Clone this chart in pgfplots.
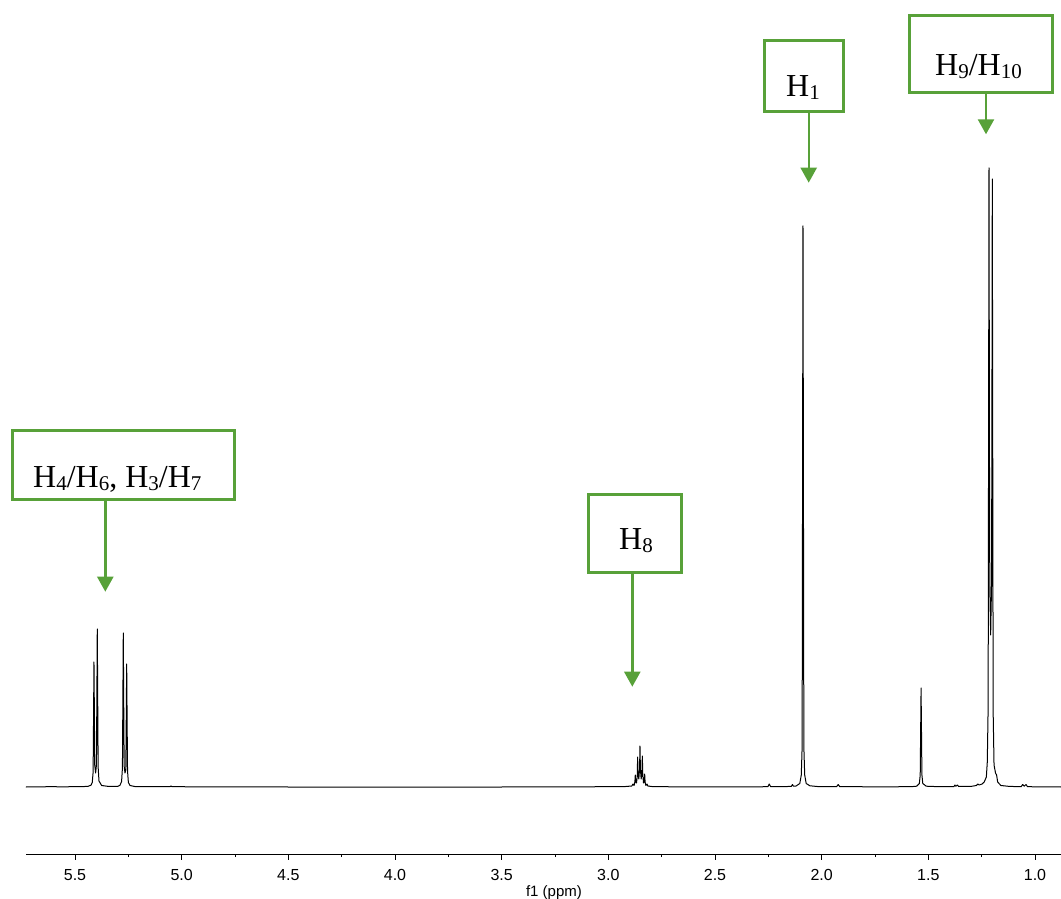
\documentclass[border=0pt]{standalone}
\usepackage{fontspec}
\setmainfont{Liberation Serif}
\newfontfamily\arialfont{Liberation Sans}
\usepackage{pgfplots}
\pgfplotsset{compat=1.18}
\usetikzlibrary{arrows.meta}
\definecolor{annot}{RGB}{88,161,57}
\newcommand\sub[1]{\raisebox{-3pt}{\fontsize{21}{21}\selectfont #1}}
\begin{document}
\begin{tikzpicture}
\path[use as bounding box] (0,0) rectangle (1061pt,898pt);
\begin{axis}[
  at={(26pt,44pt)}, anchor=south west,
  scale only axis, width=1035pt, height=854pt,
  xmin=0.878, xmax=5.7297, ymin=-67, ymax=787,
  x dir=reverse,
  axis x line=bottom, axis y line=none,
  x axis line style={-, line width=0.9pt, black},
  xtick={1.0,1.5,...,5.5},
  minor x tick num=1,
  tick align=outside,
  major tick length=5.5pt, minor tick length=3pt,
  every tick/.style={black, line width=0.8pt},
  /pgf/number format/assume math mode=true,
  /pgf/number format/.cd, fixed, fixed zerofill, precision=1, /pgfplots/.cd,
  xticklabel style={font=\arialfont\fontsize{16}{16}\selectfont, yshift=-6pt},
  xlabel={f1 (ppm)},
  xlabel style={font=\arialfont\fontsize{15}{15}\selectfont, at={(axis cs:3.255,-67)}, anchor=center, yshift=-39pt},
  clip=false,
]
\addplot[black, line width=1pt, line join=round, mark=none] coordinates {
(5.7297,0) (5.62,0.3) (5.55,0.2) (5.47,0.4)
(5.44,0.6) (5.425,1.8) (5.419,4.5) (5.415,15) (5.4132,62) (5.411,125) (5.4088,64) (5.4075,22) (5.4033,14) (5.3995,22) (5.3977,80) (5.3955,158) (5.3933,80) (5.3915,20) (5.3875,6) (5.375,1.5) (5.34,0.5)
(5.30,0.6) (5.289,1.8) (5.2816,5.5) (5.2776,19) (5.2758,78) (5.2736,154) (5.2714,78) (5.2696,21) (5.2657,14) (5.2617,17) (5.2599,62) (5.2577,123) (5.2555,62) (5.2537,16) (5.2497,4.5) (5.242,1.5) (5.22,0.5)
(5.15,0.3) (5.055,0.3) (5.05,1) (5.045,0.3) (4.8,0.1) (4.5,0) (4.0,0) (3.5,0) (3.2,0.2)
(2.93,0.3) (2.89,1) (2.8846,3) (2.8791,1.5) (2.8756,5) (2.8736,12) (2.8716,5) (2.8681,4) (2.8646,10) (2.8626,30) (2.8606,13) (2.8571,8) (2.8536,18) (2.8516,41) (2.8496,18) (2.8461,8) (2.8426,13) (2.8406,31) (2.8386,13) (2.8351,4) (2.8316,5) (2.8296,13) (2.8276,5) (2.8241,1.5) (2.8186,3) (2.8146,1) (2.79,0.3)
(2.50,0.1) (2.30,0.2)
(2.252,0.3) (2.2455,3) (2.239,0.3)
(2.16,0.5) (2.142,0.6) (2.137,2.5) (2.132,0.8)
(2.12,1) (2.1025,3.5) (2.0955,12) (2.0915,40) (2.0897,280) (2.0875,561) (2.0853,280) (2.0835,40) (2.0795,12) (2.0725,3.5) (2.055,1.2) (2.02,0.5)
(1.93,0.3) (1.9225,2.5) (1.915,0.3)
(1.70,0.2) (1.58,0.3)
(1.555,0.8) (1.542,3.5) (1.538,12) (1.5362,50) (1.534,99) (1.5318,50) (1.530,12) (1.526,3.5) (1.51,0.8)
(1.45,0.3) (1.38,0.4) (1.3755,2) (1.371,0.8) (1.3635,2) (1.358,0.5)
(1.30,0.6) (1.275,1.5) (1.268,3) (1.262,2) (1.255,2.5) (1.248,3)
(1.238,5) (1.228,10) (1.2236,25) (1.2196,80) (1.2178,320) (1.2156,619) (1.2134,330) (1.2118,200) (1.2078,152) (1.2039,200) (1.2023,320) (1.2001,608) (1.1979,310) (1.1961,75) (1.192,22) (1.185,14) (1.180,12) (1.175,5) (1.16,1.5) (1.12,0.6)
(1.065,0.3) (1.058,2.5) (1.050,0.8) (1.042,2.5) (1.035,0.3)
(0.95,0.1) (0.878,0)
};
\end{axis}
\begin{scope}[x=1pt,y=-1pt,yshift=898pt]
\tikzset{box/.style={annot, line width=3pt}, arr/.style={annot, line width=2.4pt, -{Triangle[width=16pt,length=15pt]}}}
\draw[box] (12,431) rectangle (234,499.5);
\draw[arr] (105.3,499.5) -- (105.3,591.7);
\node[anchor=base west, inner sep=0pt, font=\fontsize{32}{36}\selectfont] at (33,488) {H\sub{4}/H\sub{6}, H\sub{3}/H\sub{7}};
\draw[box] (588,495) rectangle (681.5,573);
\draw[arr] (632.3,573) -- (632.3,686.7);
\node[anchor=base west, inner sep=0pt, font=\fontsize{32}{36}\selectfont] at (619,550) {H\sub{8}};
\draw[box] (764,41) rectangle (843,111.5);
\draw[arr] (808.7,111.5) -- (808.7,182.7);
\node[anchor=base west, inner sep=0pt, font=\fontsize{32}{36}\selectfont] at (786,96.7) {H\sub{1}};
\draw[box] (909,16) rectangle (1052.5,92.5);
\draw[arr] (986,92.5) -- (986,134.3);
\node[anchor=base west, inner sep=0pt, font=\fontsize{32}{36}\selectfont] at (935,75.7) {H\sub{9}/H\sub{10}};
\end{scope}
\end{tikzpicture}
\end{document}
